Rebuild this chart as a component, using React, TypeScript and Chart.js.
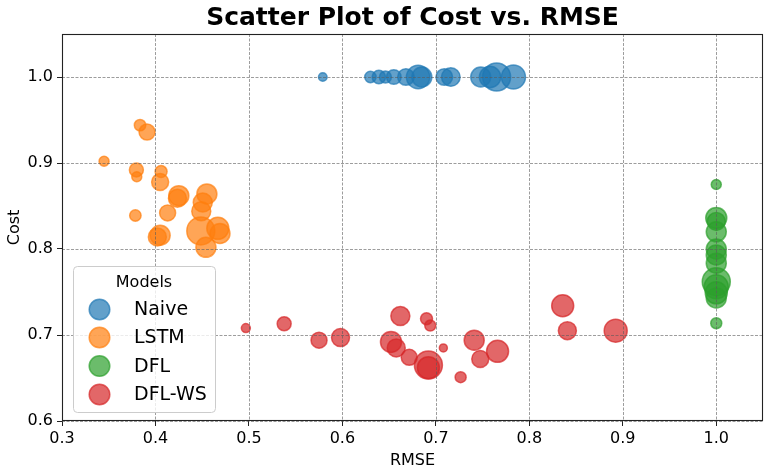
import React, { useEffect, useRef } from "react";
import { Chart, registerables } from "chart.js";

Chart.register(...registerables);

// ---- data ----
const TITLE = "Scatter Plot of Cost vs. RMSE";
const X_LABEL = "RMSE";
const Y_LABEL = "Cost";
const LEGEND_TITLE = "Models";

const X_TICKS = [0.3, 0.4, 0.5, 0.6, 0.7, 0.8, 0.9, 1.0];
const Y_TICKS = [0.6, 0.7, 0.8, 0.9, 1.0];
const X_MIN = 0.3;
const X_MAX = 1.05;
const Y_MIN = 0.6;
const Y_MAX = 1.05;

const SERIES_NAMES = ["Naive", "LSTM", "DFL", "DFL-WS"];

const naiveRmse = [0.579, 0.63, 0.639, 0.646, 0.655, 0.668, 0.681, 0.685, 0.709, 0.716, 0.748, 0.758, 0.765, 0.783];
const naiveCost = [1.0, 1.0, 1.0, 1.0, 1.0, 1.0, 1.0, 1.0, 1.0, 1.0, 1.0, 1.0, 1.0, 1.0];
const naiveSize = [4.3, 5.7, 6.7, 6, 7.3, 8.3, 11.7, 10, 8.3, 9.3, 10, 10.7, 14, 12];

const lstmRmse = [0.3835, 0.391, 0.345, 0.3796, 0.38, 0.406, 0.405, 0.425, 0.4235, 0.455, 0.4506, 0.449, 0.413, 0.3785, 0.4485, 0.405, 0.402, 0.4667, 0.469, 0.454];
const lstmCost = [0.944, 0.936, 0.902, 0.892, 0.884, 0.89, 0.878, 0.862, 0.859, 0.864, 0.854, 0.844, 0.842, 0.839, 0.821, 0.816, 0.814, 0.824, 0.818, 0.802];
const lstmSize = [5.7, 8, 5, 7, 5, 6, 8.5, 10, 9, 10, 9.5, 9.5, 8, 5.7, 14, 10, 9, 11, 10, 10];

const dflRmse = [1.0, 1.0, 1.0, 1.0, 1.0, 1.0, 1.0, 1.0, 1.0, 1.0, 1.0, 1.0];
const dflCost = [0.875, 0.836, 0.832, 0.82, 0.8, 0.793, 0.7835, 0.762, 0.756, 0.749, 0.743, 0.7137];
const dflSize = [5, 10.5, 9, 10, 10, 10, 10, 14, 12, 11, 10, 5.5];

const dflwsRmse = [0.4967, 0.5377, 0.575, 0.598, 0.662, 0.69, 0.694, 0.652, 0.6576, 0.6715, 0.692, 0.692, 0.708, 0.7265, 0.741, 0.7475, 0.766, 0.8357, 0.8407, 0.8924];
const dflwsCost = [0.708, 0.713, 0.694, 0.697, 0.722, 0.719, 0.711, 0.692, 0.685, 0.674, 0.665, 0.662, 0.685, 0.651, 0.694, 0.672, 0.681, 0.734, 0.705, 0.705];
const dflwsSize = [4.5, 7, 8, 9, 9.5, 6, 5.5, 10.5, 9, 8, 14, 11, 4, 5.5, 10, 8.5, 11, 11, 9, 11.5];

const SERIES_COLORS = ["31,119,180", "255,127,14", "44,160,44", "214,39,40"];

const FONT = "'DejaVu Sans', 'Liberation Sans', sans-serif";

function points(xs: number[], ys: number[]) {
  return xs.map((x, i) => ({ x, y: ys[i] }));
}

const decorPlugin = {
  id: "decor",
  afterDatasetsDraw(chart: any) {
    const { ctx, chartArea, scales } = chart;
    const { left, right, top, bottom } = chartArea;
    ctx.save();
    // dashed grid, drawn over the markers
    ctx.strokeStyle = "rgba(90,90,90,0.75)";
    ctx.lineWidth = 0.8;
    ctx.setLineDash([3, 1.5]);
    X_TICKS.forEach((v) => {
      const px = Math.round(scales.x.getPixelForValue(v)) + 0.5;
      ctx.beginPath();
      ctx.moveTo(px, top);
      ctx.lineTo(px, bottom);
      ctx.stroke();
    });
    Y_TICKS.forEach((v) => {
      const py = Math.round(scales.y.getPixelForValue(v)) + 0.5;
      ctx.beginPath();
      ctx.moveTo(left, py);
      ctx.lineTo(right, py);
      ctx.stroke();
    });
    ctx.setLineDash([]);
    // frame
    ctx.strokeStyle = "#222";
    ctx.lineWidth = 1.1;
    ctx.strokeRect(left + 0.5, top + 0.5, right - left - 1, bottom - top - 1);
    ctx.restore();
  },
  afterDraw(chart: any) {
    const { ctx, chartArea } = chart;
    const { left, right, top, bottom } = chartArea;
    const cx = (left + right) / 2;
    ctx.save();
    ctx.fillStyle = "#000";
    // title
    ctx.font = `bold 25px ${FONT}`;
    ctx.textAlign = "center";
    ctx.textBaseline = "alphabetic";
    ctx.fillText(TITLE, cx, top - 9);
    // axis titles
    ctx.font = `16px ${FONT}`;
    ctx.fillText(X_LABEL, cx, 465);
    ctx.save();
    ctx.translate(19, (top + bottom) / 2);
    ctx.rotate(-Math.PI / 2);
    ctx.fillText(Y_LABEL, 0, 0);
    ctx.restore();

    // legend box
    const bx = 73, by = 266, bw = 142, bh = 146;
    ctx.beginPath();
    ctx.roundRect(bx + 0.5, by + 0.5, bw, bh, 4);
    ctx.fillStyle = "rgba(255,255,255,0.8)";
    ctx.fill();
    ctx.strokeStyle = "#cccccc";
    ctx.lineWidth = 1;
    ctx.stroke();

    ctx.fillStyle = "#000";
    ctx.font = `16px ${FONT}`;
    ctx.textAlign = "center";
    ctx.fillText(LEGEND_TITLE, bx + bw / 2, 287);

    const rowY = [309.5, 337.5, 366, 394.5];
    SERIES_NAMES.forEach((name, i) => {
      const c = SERIES_COLORS[i];
      ctx.beginPath();
      ctx.arc(99.5, rowY[i], 10.3, 0, Math.PI * 2);
      ctx.fillStyle = `rgba(${c},0.7)`;
      ctx.fill();
      ctx.lineWidth = 1.5;
      ctx.strokeStyle = `rgba(${c},0.7)`;
      ctx.stroke();
      ctx.fillStyle = "#000";
      ctx.font = `19px ${FONT}`;
      ctx.textAlign = "left";
      ctx.textBaseline = "middle";
      ctx.fillText(name, 134, rowY[i] + 1);
    });
    ctx.restore();
  },
};

export default function App() {
  const canvasRef = useRef<HTMLCanvasElement | null>(null);

  useEffect(() => {
    const canvas = canvasRef.current;
    if (!canvas) return;

    const series = [
      { xs: naiveRmse, ys: naiveCost, rs: naiveSize },
      { xs: lstmRmse, ys: lstmCost, rs: lstmSize },
      { xs: dflRmse, ys: dflCost, rs: dflSize },
      { xs: dflwsRmse, ys: dflwsCost, rs: dflwsSize },
    ];

    const datasets = series.map((s, i) => ({
      label: SERIES_NAMES[i],
      data: points(s.xs, s.ys),
      pointRadius: s.rs,
      pointHoverRadius: s.rs,
      backgroundColor: `rgba(${SERIES_COLORS[i]},0.7)`,
      borderColor: `rgba(${SERIES_COLORS[i]},0.7)`,
      borderWidth: 1.5,
      order: SERIES_NAMES.length - i,
    }));

    const tickFont = { family: FONT, size: 16 };

    const chart = new Chart(canvas, {
      type: "scatter",
      data: { datasets },
      options: {
        animation: false,
        responsive: false,
        devicePixelRatio: 1,
        maintainAspectRatio: false,
        layout: { autoPadding: false, padding: { left: 0, top: 34, right: 7, bottom: 0 } },
        plugins: {
          legend: { display: false },
          title: { display: false },
          tooltip: { enabled: false },
        },
        scales: {
          x: {
            type: "linear",
            min: X_MIN,
            max: X_MAX,
            bounds: "data",
            afterBuildTicks: (axis: any) => {
              axis.ticks = X_TICKS.map((v) => ({ value: v }));
            },
            afterFit: (axis: any) => {
              axis.height = 50;
              axis.paddingLeft = 0;
              axis.paddingRight = 0;
            },
            grid: {
              display: true,
              drawOnChartArea: false,
              drawTicks: true,
              tickLength: 5,
              tickColor: "#222",
              tickWidth: 1,
            },
            border: { display: false },
            ticks: {
              font: tickFont,
              color: "#000",
              padding: 3,
              maxRotation: 0,
              autoSkip: false,
              callback: (v: any) => Number(v).toFixed(1),
            },
          },
          y: {
            type: "linear",
            min: Y_MIN,
            max: Y_MAX,
            bounds: "data",
            afterBuildTicks: (axis: any) => {
              axis.ticks = Y_TICKS.map((v) => ({ value: v }));
            },
            afterFit: (axis: any) => {
              axis.width = 62;
              axis.paddingTop = 0;
              axis.paddingBottom = 0;
            },
            grid: {
              display: true,
              drawOnChartArea: false,
              drawTicks: true,
              tickLength: 5,
              tickColor: "#222",
              tickWidth: 1,
            },
            border: { display: false },
            ticks: {
              font: tickFont,
              color: "#000",
              padding: 4,
              autoSkip: false,
              callback: (v: any) => Number(v).toFixed(1),
            },
          },
        },
      },
      plugins: [decorPlugin],
    });

    return () => chart.destroy();
  }, []);

  return (
    <div style={{ position: "absolute", left: 0, top: 0, width: 770, height: 471, background: "#fff" }}>
      <canvas ref={canvasRef} width={770} height={471} style={{ width: 770, height: 471, display: "block" }} />
    </div>
  );
}
